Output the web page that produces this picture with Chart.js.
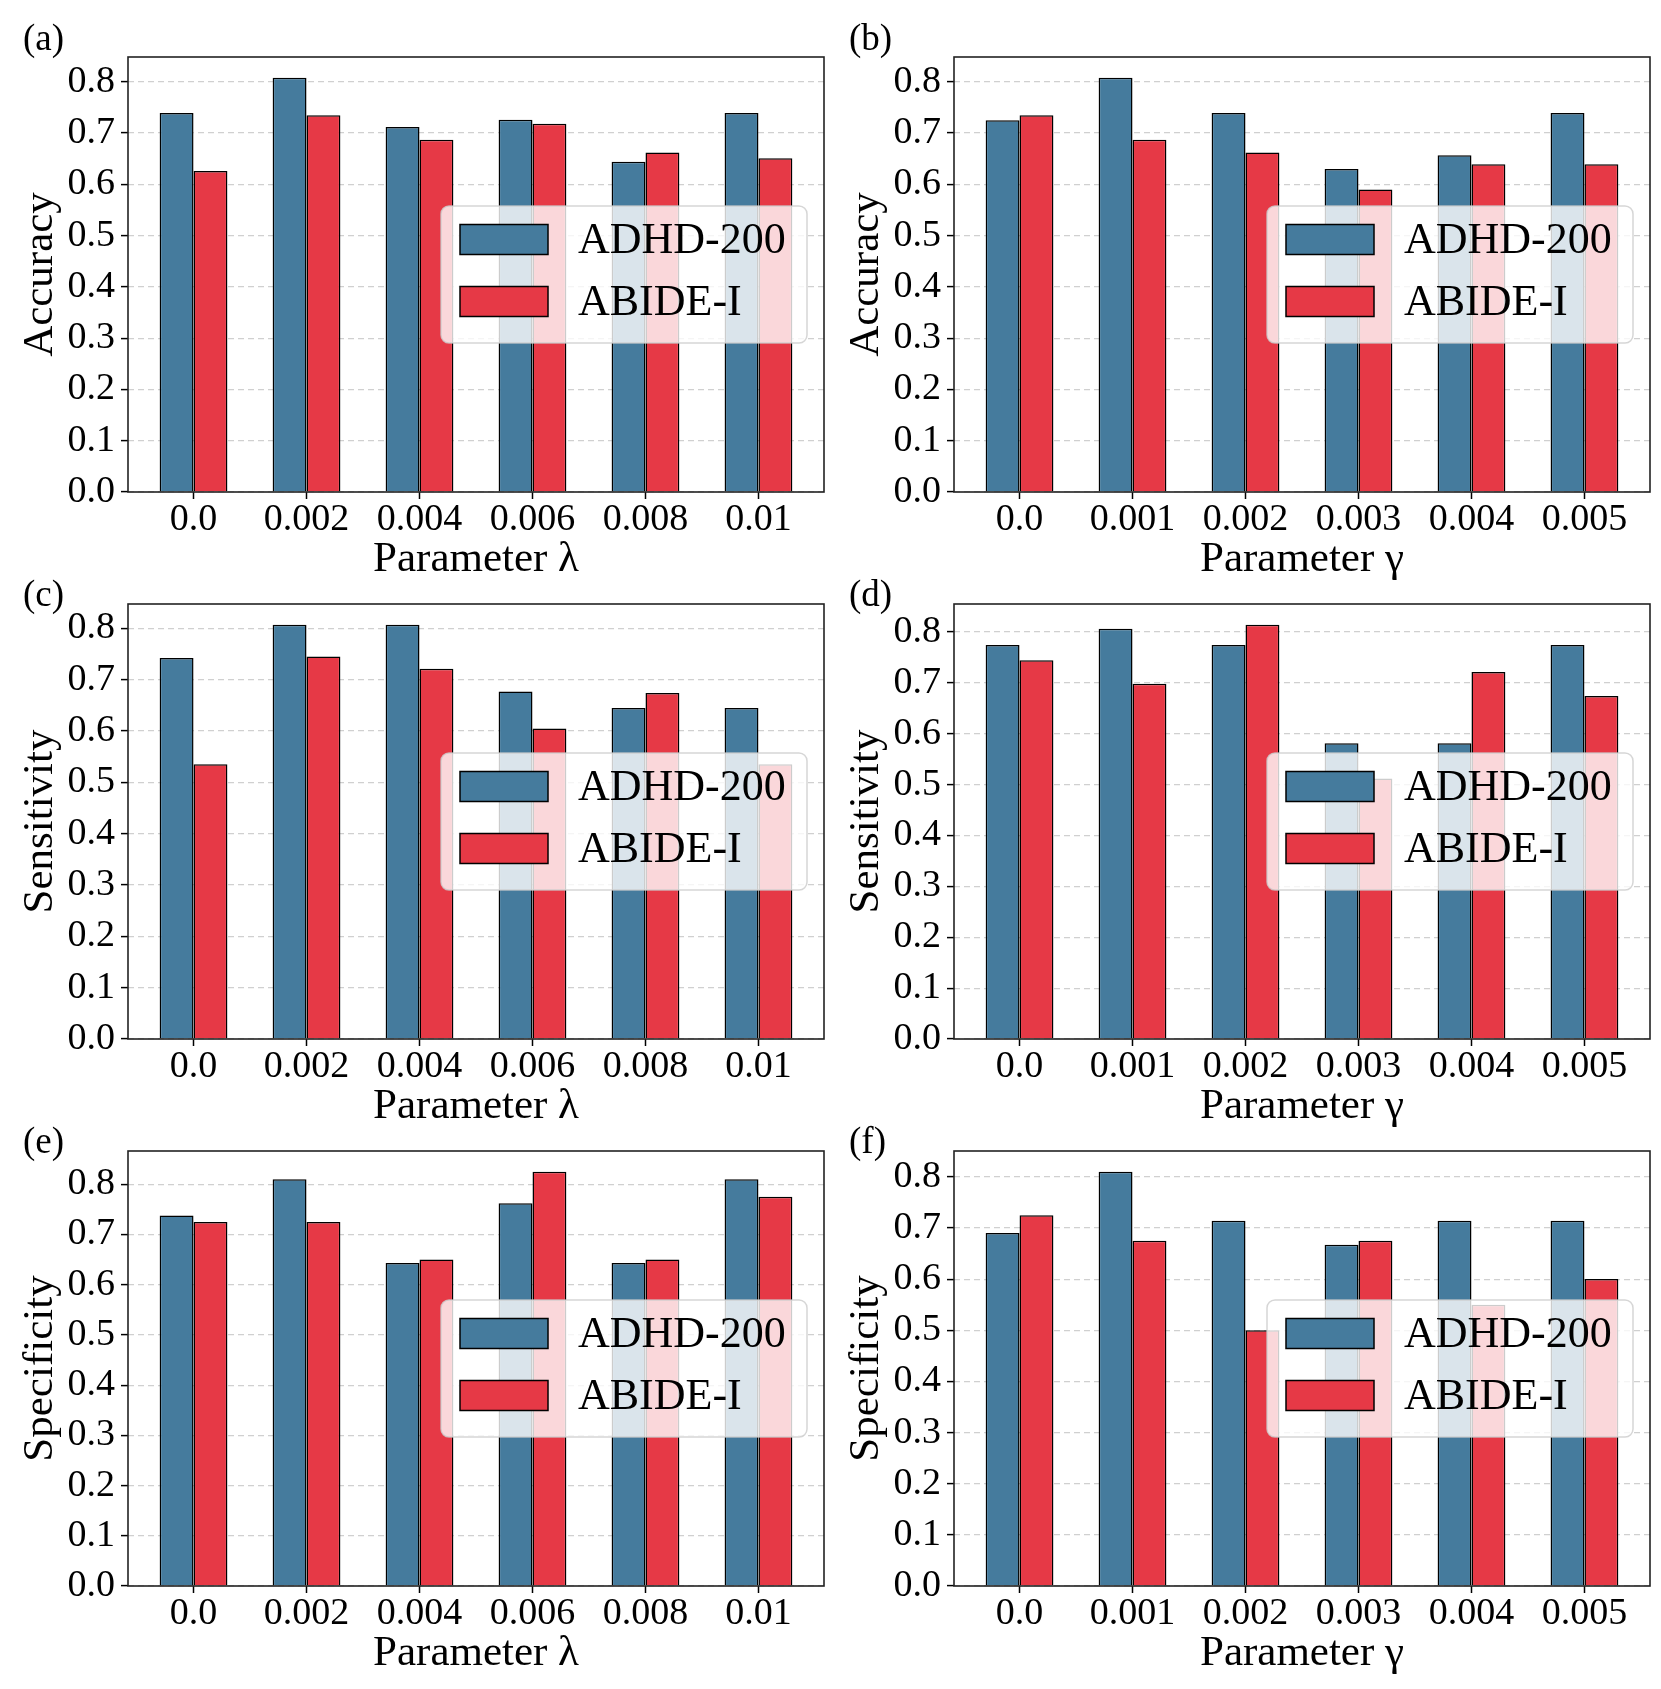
<!DOCTYPE html>
<html>
<head>
<meta charset="utf-8">
<script src="https://cdn.jsdelivr.net/npm/chart.js@4.4.1/dist/chart.umd.min.js"></script>
<style>
  body { margin: 0; background: #fff; width: 1661px; height: 1689px; position: relative; overflow: hidden; }
  canvas { position: absolute; }
</style>
</head>
<body>
<canvas id="chartA"></canvas>
<canvas id="chartB"></canvas>
<canvas id="chartC"></canvas>
<canvas id="chartD"></canvas>
<canvas id="chartE"></canvas>
<canvas id="chartF"></canvas>
<script>
// x categories
const lambdaLabels = ['0.0', '0.002', '0.004', '0.006', '0.008', '0.01'];
const gammaLabels = ['0.0', '0.001', '0.002', '0.003', '0.004', '0.005'];
// y tick values
const yTicks = [0.0, 0.1, 0.2, 0.3, 0.4, 0.5, 0.6, 0.7, 0.8];
const seriesNames = ['ADHD-200', 'ABIDE-I'];

// (a) accuracy vs lambda
const accLambdaADHD = [0.739, 0.808, 0.712, 0.726, 0.644, 0.739];
const accLambdaABIDE = [0.626, 0.735, 0.687, 0.718, 0.662, 0.651];
// (b) accuracy vs gamma
const accGammaADHD = [0.725, 0.808, 0.739, 0.630, 0.657, 0.739];
const accGammaABIDE = [0.735, 0.687, 0.662, 0.590, 0.639, 0.639];
// (c) sensitivity vs lambda
const senLambdaADHD = [0.742, 0.807, 0.807, 0.677, 0.645, 0.645];
const senLambdaABIDE = [0.535, 0.745, 0.721, 0.605, 0.674, 0.535];
// (d) sensitivity vs gamma
const senGammaADHD = [0.774, 0.806, 0.774, 0.581, 0.581, 0.774];
const senGammaABIDE = [0.744, 0.698, 0.814, 0.512, 0.721, 0.674];
// (e) specificity vs lambda
const speLambdaADHD = [0.738, 0.810, 0.643, 0.762, 0.643, 0.810];
const speLambdaABIDE = [0.725, 0.725, 0.650, 0.825, 0.650, 0.775];
// (f) specificity vs gamma
const speGammaADHD = [0.690, 0.810, 0.714, 0.667, 0.714, 0.714];
const speGammaABIDE = [0.725, 0.675, 0.500, 0.675, 0.550, 0.600];

const FONT = '"Liberation Serif", "Times New Roman", serif';
const BLUE = '#457b9d';
const RED = '#e63946';

// spines, legend box and panel tag
const framePlugin = {
    id: 'frame',
    afterDatasetsDraw(chart, args, opts) {
        const ctx = chart.ctx;
        const a = chart.chartArea;
        ctx.save();
        ctx.strokeStyle = '#222';
        ctx.lineWidth = 1.6;
        ctx.strokeRect(a.left, a.top, a.right - a.left, a.bottom - a.top);

        // legend (center right)
        const cy = (a.top + a.bottom) / 2;
        const bw = 366, bh = 137;
        const bx = a.right - 17 - bw, by = cy - bh / 2;
        ctx.beginPath();
        ctx.roundRect(bx, by, bw, bh, 8);
        ctx.fillStyle = 'rgba(255,255,255,0.8)';
        ctx.fill();
        ctx.strokeStyle = 'rgba(204,204,204,0.8)';
        ctx.lineWidth = 1.5;
        ctx.stroke();
        chart.data.datasets.forEach((ds, i) => {
            const ry = cy + (i === 0 ? -35 : 27);
            ctx.fillStyle = ds.backgroundColor;
            ctx.fillRect(bx + 19, ry - 15, 88, 30);
            ctx.strokeStyle = '#000';
            ctx.lineWidth = 1.5;
            ctx.strokeRect(bx + 19, ry - 15, 88, 30);
            ctx.fillStyle = '#000';
            ctx.font = '44px ' + FONT;
            ctx.textBaseline = 'middle';
            ctx.textAlign = 'left';
            ctx.fillText(ds.label, bx + 137, ry + 2);
        });

        ctx.font = '37px ' + FONT;
        ctx.fillStyle = '#000';
        ctx.textBaseline = 'middle';
        ctx.textAlign = 'left';
        ctx.fillText(opts.tag, 23, a.top + opts.tagDy);
        ctx.restore();
    }
};

function makePanel(id, left, top, tag, tagDy, xLabels, xTitle, yTitle, adhd, abide) {
    const canvas = document.getElementById(id);
    canvas.width = 831;
    canvas.height = 581;
    canvas.style.left = left + 'px';
    canvas.style.top = top + 'px';
    const yMax = Math.max(...adhd, ...abide) * 1.05;

    new Chart(canvas.getContext('2d'), {
        type: 'bar',
        data: {
            datasets: [{
                label: seriesNames[0],
                data: adhd.map((v, i) => ({ x: i, y: v })),
                backgroundColor: BLUE,
                borderColor: '#000',
                borderWidth: 1.5,
            }, {
                label: seriesNames[1],
                data: abide.map((v, i) => ({ x: i, y: v })),
                backgroundColor: RED,
                borderColor: '#000',
                borderWidth: 1.5,
            }]
        },
        options: {
            responsive: false,
            animation: false,
            devicePixelRatio: 1,
            events: [],
            categoryPercentage: 0.6,
            barPercentage: 1.0,
            layout: { padding: { top: 57, right: 7, left: 0, bottom: 0 } },
            plugins: {
                legend: { display: false },
                tooltip: { enabled: false },
                frame: { tag: tag, tagDy: tagDy },
            },
            scales: {
                x: {
                    type: 'linear',
                    offset: false,
                    min: -0.58,
                    max: 5.58,
                    afterBuildTicks: s => { s.ticks = xLabels.map((_, i) => ({ value: i })); },
                    afterFit: s => { s.height = 89; },
                    ticks: {
                        callback: v => xLabels[v],
                        font: { family: FONT, size: 38 },
                        color: '#000',
                        padding: -2,
                        maxRotation: 0,
                        autoSkip: false,
                    },
                    grid: {
                        offset: false,
                        drawOnChartArea: false,
                        drawTicks: true,
                        tickLength: 7,
                        tickColor: '#000',
                        tickWidth: 1.5,
                    },
                    border: { display: false },
                    title: {
                        display: true,
                        text: xTitle,
                        font: { family: FONT, size: 43, lineHeight: 1 },
                        color: '#000',
                        padding: 0,
                    }
                },
                y: {
                    min: 0,
                    max: yMax,
                    afterBuildTicks: s => { s.ticks = yTicks.map(v => ({ value: v })); },
                    afterFit: s => { s.width = 128; },
                    ticks: {
                        callback: v => v.toFixed(1),
                        font: { family: FONT, size: 38 },
                        color: '#000',
                        padding: 6,
                    },
                    grid: {
                        color: 'rgba(170,170,170,0.55)',
                        lineWidth: 1.2,
                        tickLength: 7,
                        tickColor: '#000',
                        tickWidth: 1.5,
                    },
                    border: { display: false, dash: [6, 4] },
                    title: {
                        display: true,
                        text: yTitle,
                        font: { family: FONT, size: 43, lineHeight: 1 },
                        color: '#000',
                        padding: { top: 19, bottom: 0 },
                    }
                }
            }
        },
        plugins: [framePlugin]
    });
}

makePanel('chartA', 0, 0, '(a)', -17, lambdaLabels, 'Parameter λ', 'Accuracy', accLambdaADHD, accLambdaABIDE);
makePanel('chartB', 826, 0, '(b)', -17, gammaLabels, 'Parameter γ', 'Accuracy', accGammaADHD, accGammaABIDE);
makePanel('chartC', 0, 547, '(c)', -8, lambdaLabels, 'Parameter λ', 'Sensitivity', senLambdaADHD, senLambdaABIDE);
makePanel('chartD', 826, 547, '(d)', -8, gammaLabels, 'Parameter γ', 'Sensitivity', senGammaADHD, senGammaABIDE);
makePanel('chartE', 0, 1094, '(e)', -8, lambdaLabels, 'Parameter λ', 'Specificity', speLambdaADHD, speLambdaABIDE);
makePanel('chartF', 826, 1094, '(f)', -8, gammaLabels, 'Parameter γ', 'Specificity', speGammaADHD, speGammaABIDE);
</script>
</body>
</html>
